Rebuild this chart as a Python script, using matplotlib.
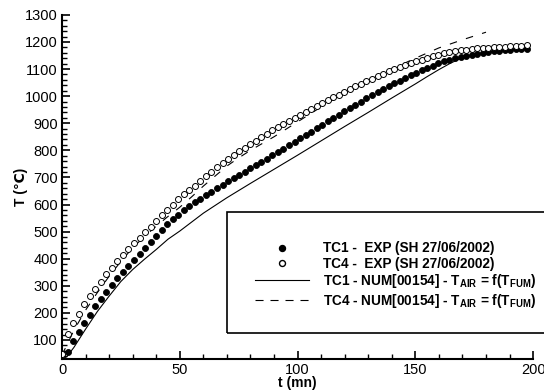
import numpy as np
import matplotlib
matplotlib.use("Agg")
import matplotlib.pyplot as plt
from matplotlib.lines import Line2D
from matplotlib.patches import Rectangle
from matplotlib.ticker import MultipleLocator

plt.rcParams['font.family'] = ['Liberation Sans', 'DejaVu Sans']
plt.rcParams['mathtext.fontset'] = 'custom'
plt.rcParams['mathtext.rm'] = 'Liberation Sans:bold'
plt.rcParams['mathtext.bf'] = 'Liberation Sans:bold'
plt.rcParams['lines.scale_dashes'] = False

# mesures : un point toutes les 2.35 mn
pas_mes = 2.35
tc1_exp = [50, 57, 96, 131, 164, 193, 224, 252, 278, 302,
           328, 352, 372, 395, 418, 440, 462, 484, 505, 527,
           546, 562, 578, 594, 608, 621, 634, 647, 660, 673,
           685, 697, 709, 721, 733, 745, 757, 769, 781, 793,
           806, 819, 831, 844, 857, 869, 882, 895, 907, 920,
           932, 944, 956, 968, 980, 992, 1004, 1015, 1026, 1037,
           1047, 1057, 1067, 1077, 1087, 1096, 1105, 1113, 1121, 1128,
           1134, 1139, 1144, 1148, 1152, 1156, 1159, 1162, 1165, 1167,
           1169, 1171, 1173, 1174, 1175]
tc4_exp = [50, 122, 163, 197, 233, 261, 288, 315, 342, 366,
           392, 415, 437, 457, 478, 497, 518, 540, 560, 580,
           600, 619, 637, 653, 670, 687, 704, 721, 738, 754,
           769, 783, 796, 809, 822, 835, 848, 861, 874, 886,
           898, 909, 920, 931, 942, 953, 964, 975, 985, 996,
           1006, 1016, 1026, 1036, 1046, 1055, 1064, 1073, 1082, 1091,
           1099, 1107, 1114, 1121, 1128, 1134, 1141, 1147, 1153, 1158,
           1162, 1166, 1169, 1172, 1174, 1176, 1178, 1179, 1181, 1182,
           1183, 1184, 1185, 1186, 1187]
t_exp = np.arange(len(tc1_exp)) * pas_mes

# calcul
t_num1 = [0, 2, 5, 10, 15, 20, 25, 30, 35, 40, 45, 50, 55, 60, 70, 80, 90,
          100, 110, 120, 130, 140, 150, 155, 160, 165, 170, 175, 180, 190, 198]
tc1_num = [30, 38, 72, 140, 205, 262, 316, 360, 398, 434, 472, 502, 535, 568,
           625, 678, 730, 782, 835, 888, 940, 993, 1045, 1072, 1098, 1122,
           1142, 1155, 1162, 1171, 1176]
t_num4 = [0, 2, 5, 10, 15, 20, 25, 30, 35, 40, 45, 50, 55, 60, 70, 75, 80, 90,
          100, 110, 120, 130, 140, 150, 160, 170, 180]
tc4_num = [45, 80, 135, 210, 275, 335, 390, 440, 482, 520, 556, 590, 628, 668,
           742, 772, 800, 850, 905, 960, 1012, 1058, 1100, 1140, 1178, 1208, 1236]

labels = ["TC1 -  EXP (SH 27/06/2002)",
          "TC4 -  EXP (SH 27/06/2002)",
          r"TC1 - NUM[00154] - T$_{\mathrm{AIR}}$ = f(T$_{\mathrm{FUM}}$)",
          r"TC4 - NUM[00154] - T$_{\mathrm{AIR}}$ = f(T$_{\mathrm{FUM}}$)"]

fig = plt.figure(figsize=(5.44, 3.91), dpi=100)
ax = fig.add_axes([0.114, 0.082, 0.866, 0.880])

ax.plot(t_num1, tc1_num, color='black', lw=0.8, zorder=2)
ax.plot(t_num4, tc4_num, color='black', lw=0.8, dashes=(5.4, 6.8), zorder=2)
ax.plot(t_exp, tc1_exp, 'o', ms=4.3, mfc='black', mec='black', mew=0.6,
        ls='none', zorder=3)
ax.plot(t_exp, tc4_exp, 'o', ms=4.3, mfc='white', mec='black', mew=0.7,
        ls='none', zorder=3)

ax.set_xlim(0, 200)
ax.set_ylim(30, 1300)
ax.xaxis.set_major_locator(MultipleLocator(50))
ax.xaxis.set_minor_locator(MultipleLocator(10))
ax.yaxis.set_major_locator(MultipleLocator(100))
ax.yaxis.set_minor_locator(MultipleLocator(20))
ax.spines['top'].set_visible(False)
ax.spines['right'].set_visible(False)
for s in ['left', 'bottom']:
    ax.spines[s].set_linewidth(1.5)
ax.tick_params(which='major', direction='in', length=6, width=1.2,
               labelsize=10.5, pad=3)
ax.tick_params(which='minor', direction='in', length=3.5, width=1.0)

ax.set_xlabel("t (mn)", fontsize=10, fontweight='bold', labelpad=-1)
ax.set_ylabel("T (℃)", fontsize=10, fontweight='bold', labelpad=-2)

# cadre de la légende
fig.patches.append(Rectangle((0.4173, 0.1483), 0.6, 0.3095,
                             transform=fig.transFigure, fill=False,
                             edgecolor='black', lw=1.2))

handles = [Line2D([], [], marker='o', ms=4.3, mfc='black', mec='black', ls='none'),
           Line2D([], [], marker='o', ms=4.3, mfc='white', mec='black', ls='none'),
           Line2D([], [], color='black', lw=0.8),
           Line2D([], [], color='black', lw=0.8, dashes=(5.8, 5.0))]
leg = fig.legend(handles, labels, loc='center left',
                 bbox_to_anchor=(255 / 544, 0.2954), frameon=False,
                 prop={'weight': 'bold', 'size': 9.8}, handlelength=4.0,
                 handletextpad=1.0, labelspacing=0.1, borderpad=0,
                 borderaxespad=0)

fig.savefig("out.png", dpi=100)
